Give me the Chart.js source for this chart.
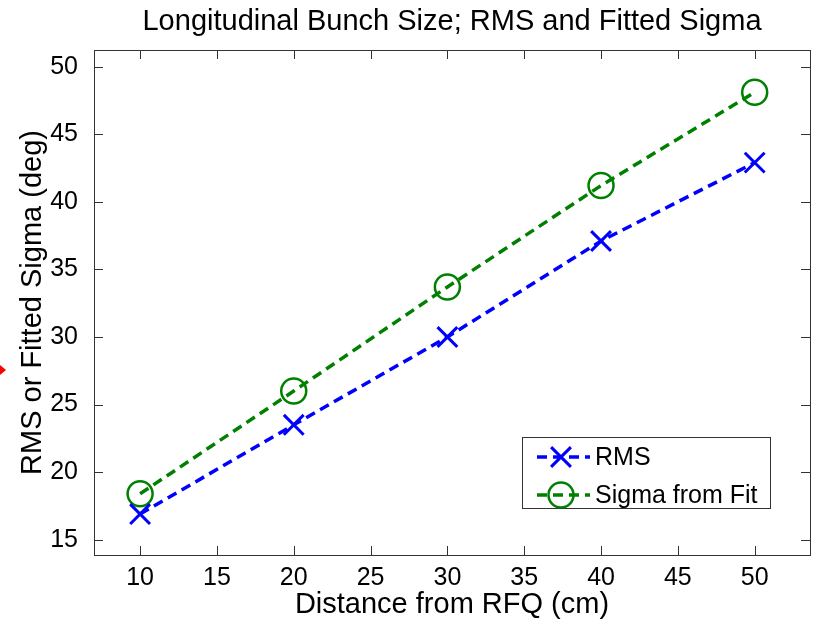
<!DOCTYPE html>
<html lang="en">
<head>
    <meta charset="UTF-8">
    <title>Longitudinal Bunch Size</title>
    <style>
        body { margin: 0; background: #fff; }
    </style>
</head>
<body>
<canvas id="myChart" width="827" height="623"></canvas>
<script src="https://cdn.jsdelivr.net/npm/chart.js@4.4.1/dist/chart.umd.min.js"></script>
<script>
    // values
    let distance = [10, 20, 30, 40, 50];
    let rms = [16.9, 23.5, 30.0, 37.1, 42.9];
    let sigmaFit = [18.4, 26.0, 33.7, 41.2, 48.1];
    let seriesNames = ['RMS', 'Sigma from Fit'];

    const FONT = 'Arial, "Liberation Sans", Helvetica, sans-serif';
    const BOX = '#333333';

    // MATLAB style box with inward ticks on all four sides
    const boxPlugin = {
        id: 'box',
        beforeDatasetsDraw(chart) {
            let ctx = chart.ctx;
            let a = chart.chartArea;
            let xs = chart.scales.x, ys = chart.scales.y;
            ctx.save();
            ctx.strokeStyle = BOX;
            ctx.lineWidth = 1;
            ctx.beginPath();
            xs.ticks.forEach(t => {
                let px = Math.round(xs.getPixelForValue(t.value)) + 0.5;
                ctx.moveTo(px, a.bottom); ctx.lineTo(px, a.bottom - 9);
                ctx.moveTo(px, a.top); ctx.lineTo(px, a.top + 9);
            });
            ys.ticks.forEach(t => {
                let py = Math.round(ys.getPixelForValue(t.value)) + 0.5;
                ctx.moveTo(a.left, py); ctx.lineTo(a.left + 9, py);
                ctx.moveTo(a.right, py); ctx.lineTo(a.right - 9, py);
            });
            ctx.stroke();
            ctx.strokeRect(Math.round(a.left) + 0.5, Math.round(a.top) + 0.5,
                Math.round(a.right - a.left), Math.round(a.bottom - a.top));
            // little red mark on the left edge
            ctx.fillStyle = '#ff0000';
            ctx.beginPath();
            ctx.moveTo(0, 365); ctx.lineTo(6, 370); ctx.lineTo(0, 375);
            ctx.closePath();
            ctx.fill();
            ctx.restore();
        }
    };

    function drawMarker(ctx, ds, x, y) {
        ctx.save();
        ctx.strokeStyle = ds.pointBorderColor;
        ctx.lineWidth = ds.pointBorderWidth;
        ctx.setLineDash([]);
        ctx.beginPath();
        if (ds.pointStyle === 'circle') {
            ctx.arc(x, y, ds.pointRadius, 0, Math.PI * 2);
        } else {
            let d = ds.pointRadius * Math.SQRT1_2;
            ctx.moveTo(x - d, y - d); ctx.lineTo(x + d, y + d);
            ctx.moveTo(x + d, y - d); ctx.lineTo(x - d, y + d);
        }
        ctx.stroke();
        ctx.restore();
    }

    // legend box inside the plot, lower right
    const legendPlugin = {
        id: 'innerLegend',
        afterDraw(chart) {
            let ctx = chart.ctx;
            let left = 522.5, top = 437.5, w = 248, h = 71;
            ctx.save();
            ctx.fillStyle = '#fff';
            ctx.fillRect(left, top, w, h);
            ctx.strokeStyle = BOX;
            ctx.lineWidth = 1;
            ctx.strokeRect(left, top, w, h);
            chart.data.datasets.forEach((ds, i) => {
                let y = 457 + i * 38;
                ctx.strokeStyle = ds.borderColor;
                ctx.lineWidth = ds.borderWidth;
                ctx.setLineDash(ds.borderDash);
                ctx.beginPath();
                ctx.moveTo(537, y); ctx.lineTo(590, y);
                ctx.stroke();
                drawMarker(ctx, ds, 561, y);
                ctx.fillStyle = '#000';
                ctx.font = '25px ' + FONT;
                ctx.textBaseline = 'middle';
                ctx.fillText(ds.label, 595, y + 1);
            });
            ctx.restore();
        }
    };

    let ctx = document.getElementById('myChart').getContext('2d');
    new Chart(ctx, {
        type: 'line',
        data: {
            labels: distance,
            datasets: [
                {
                    label: seriesNames[0],
                    data: distance.map((d, i) => ({x: d, y: rms[i]})),
                    borderColor: '#0000ff',
                    borderWidth: 3.5,
                    borderDash: [10, 6],
                    pointStyle: 'crossRot',
                    pointRadius: 14,
                    pointBorderWidth: 3,
                    pointBorderColor: '#0000ff',
                    pointBackgroundColor: 'rgba(0,0,0,0)',
                    fill: false,
                    tension: 0
                },
                {
                    label: seriesNames[1],
                    data: distance.map((d, i) => ({x: d, y: sigmaFit[i]})),
                    borderColor: '#008000',
                    borderWidth: 3.5,
                    borderDash: [10, 6],
                    pointStyle: 'circle',
                    pointRadius: 12.5,
                    pointBorderWidth: 2.5,
                    pointBorderColor: '#008000',
                    pointBackgroundColor: 'rgba(0,0,0,0)',
                    fill: false,
                    tension: 0
                }
            ]
        },
        options: {
            responsive: false,
            animation: false,
            devicePixelRatio: 1,
            layout: { padding: { left: 0, right: 6, top: 0, bottom: 0 } },
            plugins: {
                legend: { display: false },
                tooltip: { enabled: false },
                title: {
                    display: true,
                    fullSize: false,
                    text: 'Longitudinal Bunch Size; RMS and Fitted Sigma',
                    color: '#000',
                    font: { family: FONT, size: 29, weight: 'normal' },
                    padding: { top: 5, bottom: 10.2 }
                }
            },
            scales: {
                x: {
                    type: 'linear',
                    min: 7,
                    max: 53.6,
                    grid: { display: false },
                    border: { display: false },
                    ticks: {
                        stepSize: 5,
                        includeBounds: false,
                        padding: 0,
                        color: '#000',
                        font: { family: FONT, size: 25 }
                    },
                    title: {
                        display: true,
                        text: 'Distance from RFQ (cm)',
                        color: '#000',
                        font: { family: FONT, size: 29 },
                        padding: { top: 0, bottom: 1 }
                    },
                    afterFit: s => { s.height = 68; }
                },
                y: {
                    min: 13.87,
                    max: 51.23,
                    grid: { display: false },
                    border: { display: false },
                    ticks: {
                        stepSize: 5,
                        includeBounds: false,
                        padding: 8,
                        color: '#000',
                        font: { family: FONT, size: 25 }
                    },
                    title: {
                        display: true,
                        text: 'RMS or Fitted Sigma (deg)',
                        color: '#000',
                        font: { family: FONT, size: 29 },
                        padding: { top: 16, bottom: 0 }
                    },
                    afterFit: s => { s.width = 94; }
                }
            }
        },
        plugins: [boxPlugin, legendPlugin]
    });
</script>
</body>
</html>
